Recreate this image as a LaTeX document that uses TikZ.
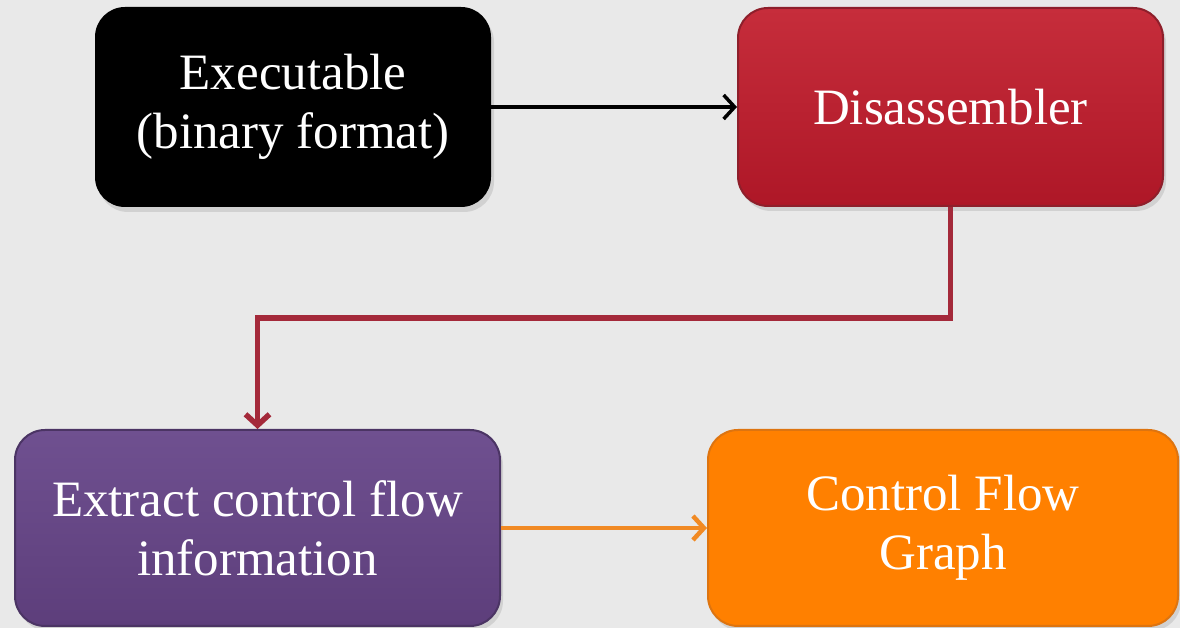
\documentclass[tikz,border=0pt]{standalone}
\usepackage{fontspec}
\setmainfont{Liberation Serif}
\usetikzlibrary{arrows.meta,shadows}

\definecolor{paper}{HTML}{E9E9E9}
\definecolor{redtop}{HTML}{C62D3B}
\definecolor{redbot}{HTML}{AE1727}
\definecolor{redline}{HTML}{8E1F2B}
\definecolor{redarrow}{HTML}{A4293A}
\definecolor{purtop}{HTML}{6F5090}
\definecolor{purbot}{HTML}{5D3E7B}
\definecolor{purline}{HTML}{4B3464}
\definecolor{orfill}{HTML}{FF8000}
\definecolor{orline}{HTML}{DD7410}
\definecolor{orarrow}{HTML}{F18A24}

\tikzset{
  box/.style={rounded corners=30pt, align=center, text=white,
    font=\fontsize{51}{59}\selectfont, inner sep=0pt,
    drop shadow={opacity=0.22, shadow xshift=3pt, shadow yshift=-5pt}},
  link/.style={-{Straight Barb[length=11pt,width=24pt]}},
}

\begin{document}
\begin{tikzpicture}[x=1pt,y=1pt]
  % page and background
  \fill[paper] (0,0) rectangle (1180,628);
  \useasboundingbox (0,0) rectangle (1180,628);

  % process boxes
  \node[box, fill=black, minimum width=396pt, minimum height=200pt]
    (exe) at (293,521) {Executable\\(binary format)};
  \node[box, top color=redtop, bottom color=redbot, draw=redline, line width=2pt,
    minimum width=425pt, minimum height=198pt]
    (dis) at (950.5,521) {Disassembler};
  \node[box, top color=purtop, bottom color=purbot, draw=purline, line width=2pt,
    minimum width=485pt, minimum height=196pt]
    (ext) at (257.5,100) {Extract control flow\\information};
  \node[box, fill=orfill, draw=orline, line width=2pt,
    minimum width=470pt, minimum height=196pt]
    (cfg) at (943,100) {Control Flow\\Graph};

  % connectors
  \draw[link, black, line width=3.5pt] (exe.east) -- (dis.west);
  \coordinate (turn) at (950.5,310);
  \draw[link, redarrow, line width=5.5pt] (dis.south) -- (turn) -| (ext.north);
  \draw[link, orarrow, line width=4.5pt] (ext.east) -- (cfg.west);
\end{tikzpicture}
\end{document}
